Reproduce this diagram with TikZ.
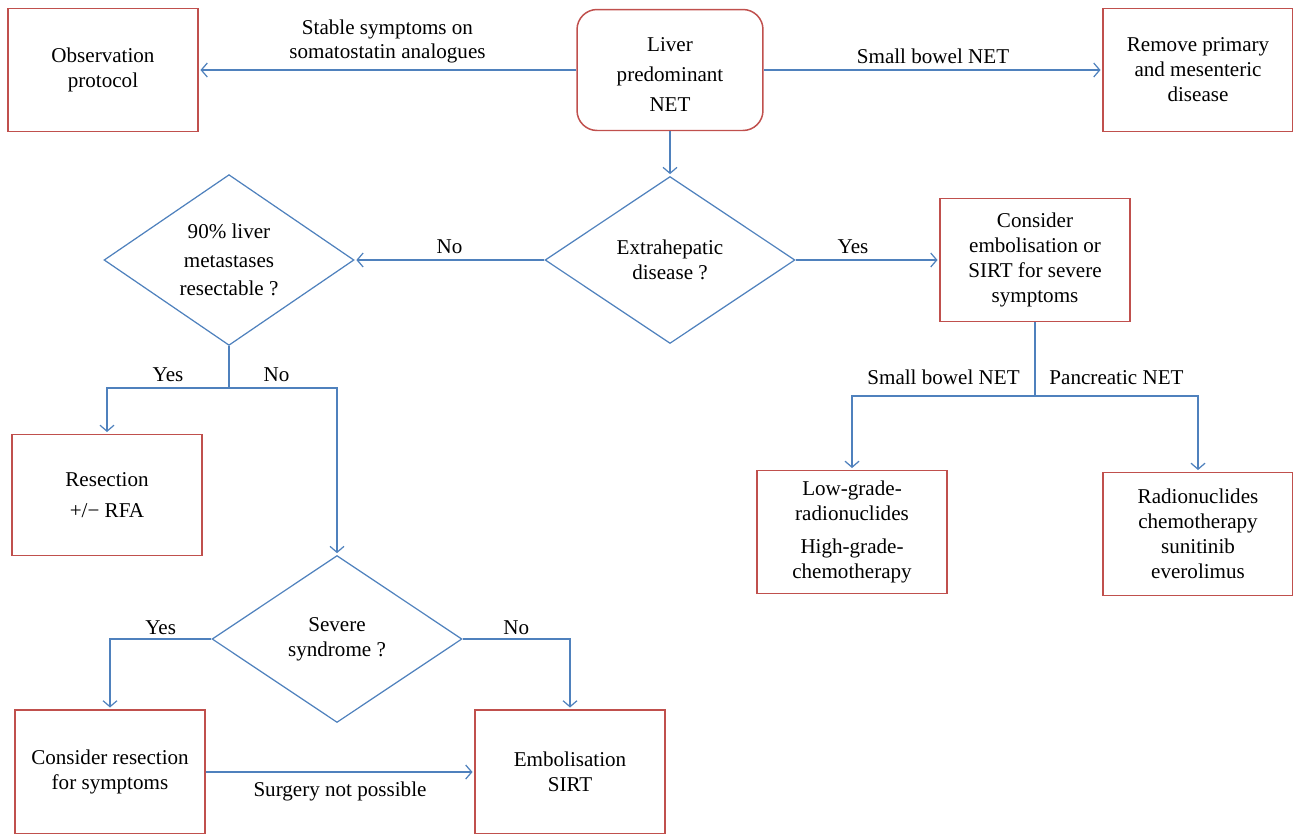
\documentclass[tikz,border=0pt]{standalone}
\usepackage{fontspec}
\setmainfont{Liberation Serif}
\usetikzlibrary{arrows.meta}
\usetikzlibrary{shapes.geometric}
\definecolor{lineblue}{RGB}{79,129,189}
\definecolor{boxred}{RGB}{192,80,77}
\tikzset{%
  myline/.style={draw=lineblue, line width=0.7pt},
  myedge/.style={myline, ->, shorten >=1pt, >={Straight Barb[length=1.2mm,width=2.8mm]}},
  mybox/.style={rectangle, draw=boxred, line width=0.85pt, minimum width=3.8cm, minimum height=2.46cm, align=center},
  mychoice/.style={diamond, draw=lineblue, line width=0.7pt, minimum width=5cm, minimum height=3.34cm, inner sep=0pt, align=center}
}

\begin{document}
\begin{tikzpicture}[x=0.02cm, y=-0.02cm, font=\fontsize{12}{14.2}\selectfont]
\clip (0,0) rectangle (1293,833);

% boxes
\node [mybox] (obs) at (103,70) {Observation\\protocol};
\node [mybox, rounded corners=0.4cm, minimum width=3.72cm, minimum height=2.42cm] (liver) at (670,70) {\rule{0pt}{13pt}Liver\\[3pt]predominant\\[3pt]NET};
\node [mybox] (remove) at (1198,70) {Remove primary\\and mesenteric\\disease};
\node [mybox] (cons) at (1035,260) {Consider\\embolisation or\\SIRT for severe\\symptoms};
\node [mybox] (low) at (852,532) {Low-grade-\\radionuclides\\[5pt]High-grade-\\chemotherapy};
\node [mybox] (radio) at (1198,534) {Radionuclides\\chemotherapy\\sunitinib\\everolimus};
\node [mybox, minimum height=2.42cm] (resec) at (107,495) {Resection\\[3pt]+/− RFA};
\node [mybox, minimum height=2.48cm] (conres) at (110,772) {Consider resection\\for symptoms};
\node [mybox, minimum height=2.48cm] (embol) at (570,772) {Embolisation\\SIRT};

% decisions
\node [mychoice] (extra) at (670,260) {Extrahepatic\\disease ?};
\node [mychoice] (q90) at (229,260) {90\% liver\\[2pt]metastases\\[2pt]resectable ?};
\node [mychoice] (severe) at (337,639) {Severe\\syndrome ?};

\coordinate (forkR) at (1035,396);
\coordinate (forkL) at (229,388);

% connectors
\draw [myedge] (liver) -- (obs) node [midway, above, align=center] {Stable symptoms on\\somatostatin analogues};
\draw [myedge] (liver) -- (remove) node [midway, above] {Small bowel NET};
\draw [myedge] (liver) -- (extra);
\draw [myedge] (extra) -- (q90) node [midway, above] {No};
\draw [myedge] (extra) -- (cons) node [pos=0.4, above] {Yes};

\draw [myline] (cons) -- (forkR);
\draw [myedge] (forkR) -| (low.north) node [pos=0.25, above=3pt] {Small bowel NET};
\draw [myedge] (forkR) -| (radio.north) node [pos=0.25, above=3pt] {Pancreatic NET};

\draw [myline] (q90) -- (forkL);
\draw [myedge] (forkL) -| (resec.north) node [pos=0.25, above] {Yes};
\draw [myedge] (forkL) -| (severe.north) node [pos=0.22, above] {No};

\draw [myedge] (severe.west) -| (conres.north) node [pos=0.25, above=-1pt] {Yes};
\draw [myedge] (severe.east) -| (embol.north) node [pos=0.25, above=-1pt] {No};

\draw [myedge] (conres) -- (embol) node [midway, below=2pt] {Surgery not possible};

\end{tikzpicture}
\end{document}
